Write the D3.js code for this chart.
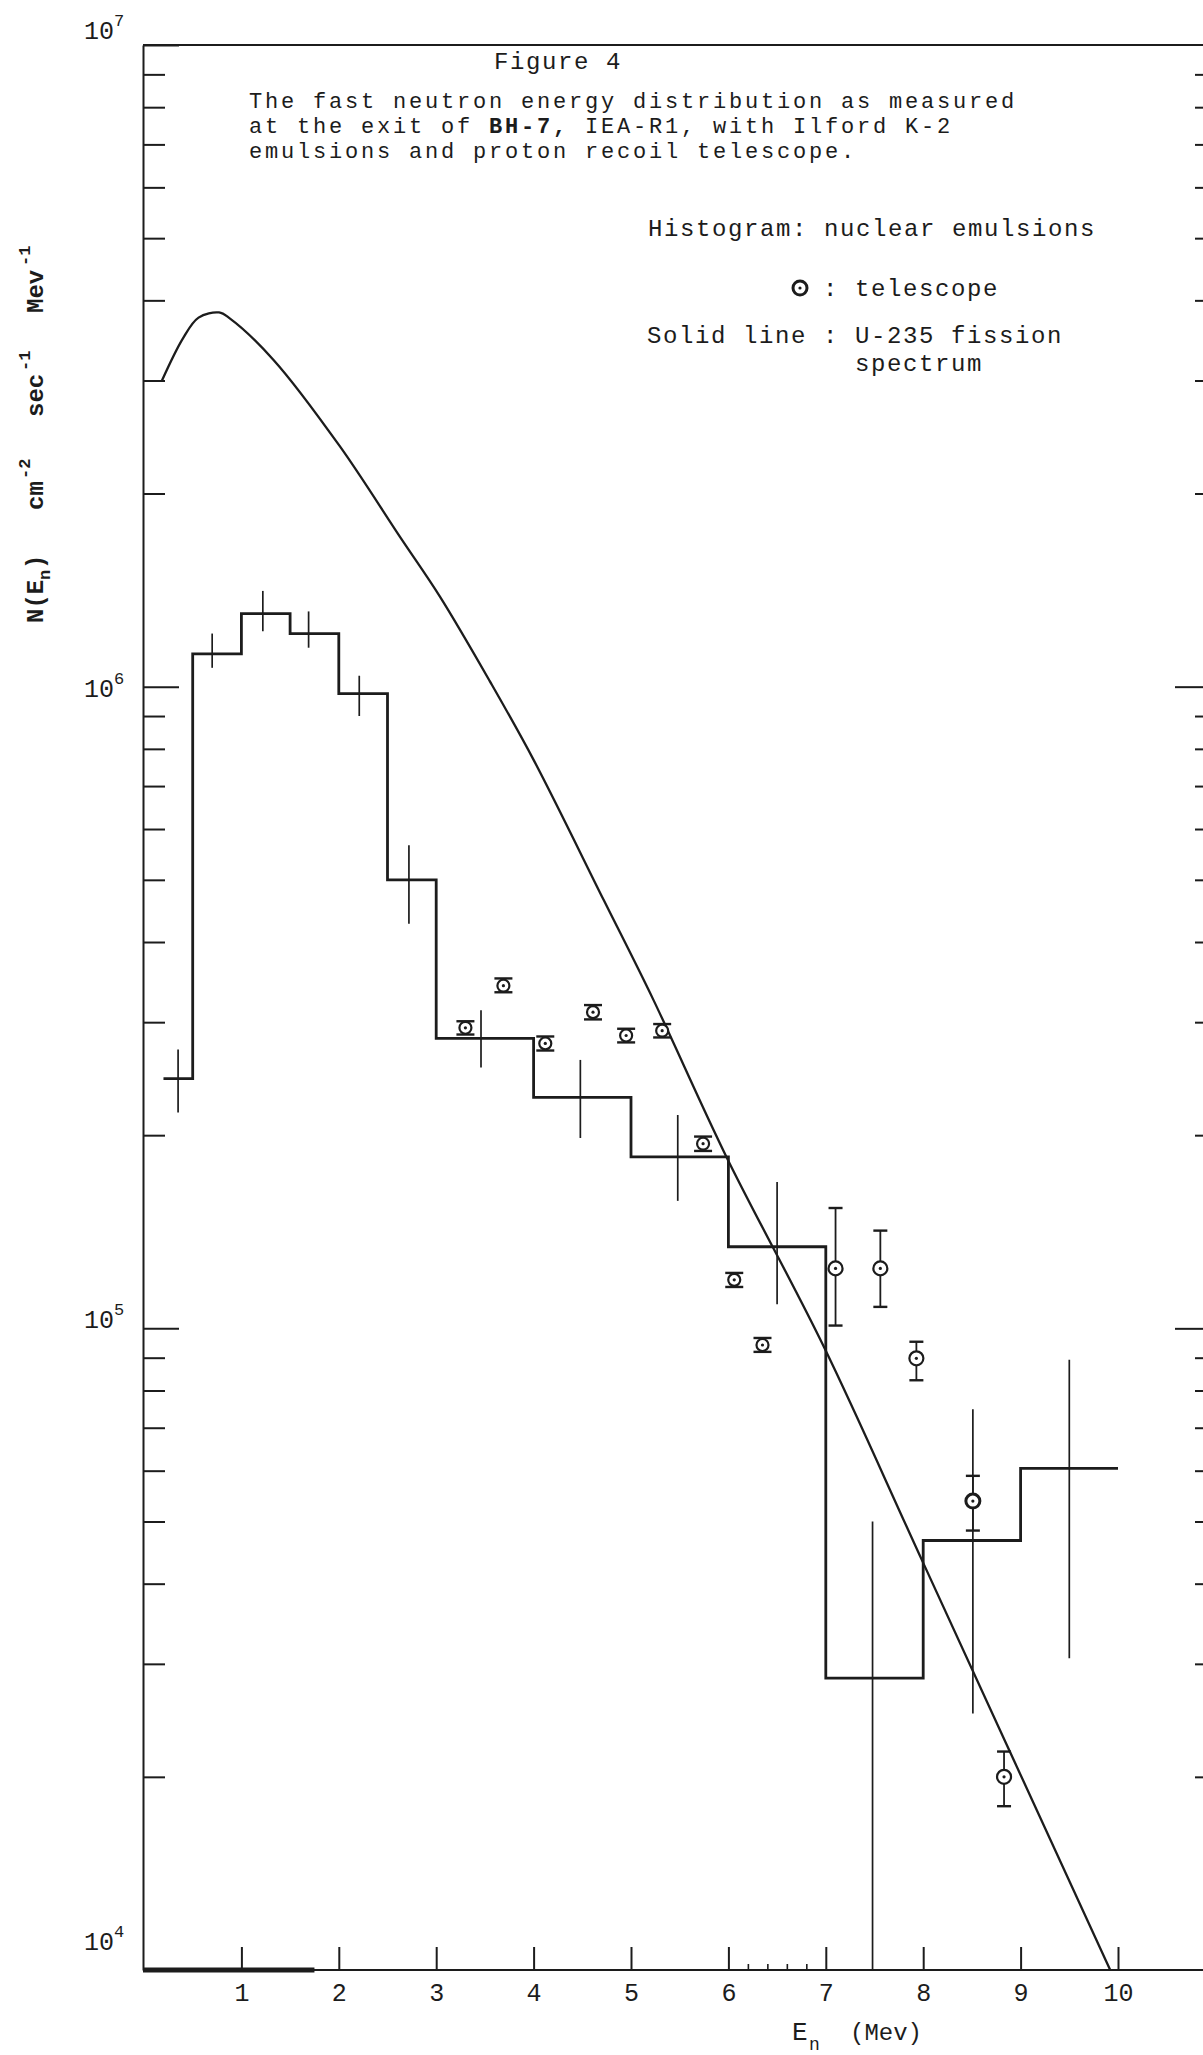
<!DOCTYPE html>
<html>
<head>
<meta charset="utf-8">
<script src="https://cdn.jsdelivr.net/npm/d3@7"></script>
<style>
  html, body { margin: 0; padding: 0; background: #fff; }
  svg { display: block; }
  text { font-family: "Liberation Mono", "Courier New", monospace; fill: #1c1c1c; }
</style>
</head>
<body>
<svg id="chart" width="1203" height="2055"></svg>
<script>
// ---- Nuclear emulsion histogram: bin edges (MeV) and flux in each bin ----
const binEdges = [0.2, 0.5, 1.0, 1.5, 2.0, 2.5, 3, 4, 5, 6, 7, 8, 9, 10];
const binFlux  = [2.45e5, 1.125e6, 1.30e6, 1.21e6, 9.75e5, 5.0e5, 2.83e5, 2.29e5, 1.85e5, 1.34e5, 2.85e4, 4.67e4, 6.05e4];

// statistical error bar of each bin (position and extent)
const binErrE  = [0.35, 0.70, 1.22, 1.69, 2.21, 2.72, 3.46, 4.48, 5.48, 6.50, 7.48, 8.51, 9.50];
const binErrHi = [2.72e5, 1.21e6, 1.41e6, 1.31e6, 1.04e6, 5.66e5, 3.13e5, 2.62e5, 2.15e5, 1.69e5, 5.0e4, 7.48e4, 8.93e4];
const binErrLo = [2.17e5, 1.07e6, 1.22e6, 1.15e6, 9.0e5, 4.27e5, 2.55e5, 1.98e5, 1.58e5, 1.09e5, 1.0e4, 2.51e4, 3.06e4];

// ---- Proton recoil telescope points ----
const telE    = [3.30, 3.69, 4.12, 4.61, 4.95, 5.32, 5.74, 6.06, 6.35, 7.10, 7.56, 7.93, 8.51, 8.83];
const telFlux = [2.94e5, 3.42e5, 2.78e5, 3.11e5, 2.86e5, 2.91e5, 1.94e5, 1.19e5, 9.42e4, 1.24e5, 1.24e5, 8.98e4, 5.38e4, 2.0e4];
const telHi   = [3.01e5, 3.51e5, 2.85e5, 3.19e5, 2.93e5, 2.98e5, 1.99e5, 1.22e5, 9.66e4, 1.54e5, 1.42e5, 9.53e4, 5.89e4, 2.19e4];
const telLo   = [2.87e5, 3.34e5, 2.71e5, 3.03e5, 2.79e5, 2.84e5, 1.89e5, 1.16e5, 9.19e4, 1.01e5, 1.08e5, 8.30e4, 4.84e4, 1.80e4];

// ---- U-235 fission spectrum (solid line) ----
const fissionE    = [0.18, 0.40, 0.56, 0.77, 0.88, 1.33, 2.01, 2.63, 3.04, 3.55, 4.00, 4.72, 5.23, 5.98, 6.98, 8.00, 9.92];
const fissionFlux = [2.99e6, 3.49e6, 3.76e6, 3.83e6, 3.75e6, 3.23e6, 2.37e6, 1.71e6, 1.38e6, 1.02e6, 7.69e5, 4.65e5, 3.25e5, 1.85e5, 9.36e4, 4.31e4, 1.0e4];

// ---- axis ticks ----
const xTickValues = [1, 2, 3, 4, 5, 6, 7, 8, 9, 10];
const xMinorTicks = [6.2, 6.4, 6.6, 6.8];
const decadeTicks = [1e4, 1e5, 1e6, 1e7];
const decadeExp   = ["4", "5", "6", "7"];
const minorTicks  = [1e4, 1e5, 1e6].flatMap(d => [2, 3, 4, 5, 6, 7, 8, 9].map(m => m * d));

const ink = "#1c1c1c";
const svg = d3.select("#chart");

const x = d3.scaleLinear().domain([0, 10]).range([144, 1118]);
const y = d3.scaleLog().domain([1e4, 1e7]).range([1970, 45]);

// ---------- frame ----------
// top border
svg.append("line").attr("x1", 143).attr("x2", 1203).attr("y1", y(1e7)).attr("y2", y(1e7))
  .attr("stroke", ink).attr("stroke-width", 2);
// bottom energy axis, heavier near the origin
svg.append("line").attr("x1", 143).attr("x2", 1203).attr("y1", y(1e4)).attr("y2", y(1e4))
  .attr("stroke", ink).attr("stroke-width", 2.2);
svg.append("line").attr("x1", 143).attr("x2", x(1.75)).attr("y1", y(1e4)).attr("y2", y(1e4))
  .attr("stroke", ink).attr("stroke-width", 5);

// left flux axis: minor and decade ticks pointing inward
const yMinor = d3.axisLeft(y).tickValues(minorTicks).tickSize(-22).tickSizeOuter(0).tickFormat("");
const yMajor = d3.axisLeft(y).tickValues(decadeTicks).tickSize(-36).tickSizeOuter(0).tickFormat("");
svg.append("g").attr("transform", "translate(143,0)").call(yMinor)
  .call(g => g.selectAll("line").attr("stroke", ink).attr("stroke-width", 2))
  .call(g => g.select(".domain").attr("stroke", ink).attr("stroke-width", 2));
svg.append("g").attr("transform", "translate(143,0)").call(yMajor)
  .call(g => g.select(".domain").remove())
  .call(g => g.selectAll("line").attr("stroke", ink).attr("stroke-width", 2));

// right side ticks (axis itself lies just past the page edge)
const rMinor = d3.axisRight(y).tickValues(minorTicks).tickSize(-11).tickSizeOuter(0).tickFormat("");
const rMajor = d3.axisRight(y).tickValues(decadeTicks.slice(1, 3)).tickSize(-31).tickSizeOuter(0).tickFormat("");
[rMinor, rMajor].forEach(ax => {
  svg.append("g").attr("transform", "translate(1206,0)").call(ax)
    .call(g => g.select(".domain").remove())
    .call(g => g.selectAll("line").attr("stroke", ink).attr("stroke-width", 2));
});

// decade labels 10^n
const decBase = { 4: -20, 5: 0, 6: 10, 7: -6 };
decadeTicks.forEach((v, i) => {
  const e = decadeExp[i];
  const t = svg.append("text").attr("x", 84).attr("y", y(v) + decBase[e])
    .attr("font-size", 25).attr("fill", "#2a2a2a");
  t.append("tspan").text("10");
  t.append("tspan").attr("font-size", 17).attr("dy", -13).text(e);
});

// energy axis ticks (pointing up) and labels
const xAxis = d3.axisBottom(x).tickValues(xTickValues).tickSize(-23).tickSizeOuter(0)
  .tickPadding(13).tickFormat(d3.format("d"));
svg.append("g").attr("transform", `translate(0,${y(1e4)})`).call(xAxis)
  .call(g => g.select(".domain").remove())
  .call(g => g.selectAll("line").attr("stroke", ink).attr("stroke-width", 2))
  .call(g => g.selectAll("text").attr("font-size", 25).attr("fill", "#2a2a2a")
    .attr("font-family", "'Liberation Mono', monospace"));
svg.append("g").attr("transform", `translate(0,${y(1e4)})`)
  .call(d3.axisBottom(x).tickValues(xMinorTicks).tickSize(-6).tickSizeOuter(0).tickFormat(""))
  .call(g => g.select(".domain").remove())
  .call(g => g.selectAll("line").attr("stroke", ink).attr("stroke-width", 1.6));

// ---------- data ----------
// fission spectrum
svg.append("path")
  .datum(fissionE.map((e, i) => [e, fissionFlux[i]]))
  .attr("fill", "none").attr("stroke", ink).attr("stroke-width", 2.3)
  .attr("d", d3.line().x(d => x(d[0])).y(d => y(d[1])).curve(d3.curveCatmullRom.alpha(0.5)));

// emulsion histogram
const histPts = binEdges.map((e, i) => [e, binFlux[Math.min(i, binFlux.length - 1)]]);
svg.append("path")
  .datum(histPts)
  .attr("fill", "none").attr("stroke", ink).attr("stroke-width", 2.8)
  .attr("d", d3.line().x(d => x(d[0])).y(d => y(d[1])).curve(d3.curveStepAfter));

// histogram error bars
svg.append("g").selectAll("line").data(binErrE).join("line")
  .attr("x1", d => x(d)).attr("x2", d => x(d))
  .attr("y1", (d, i) => y(binErrHi[i])).attr("y2", (d, i) => y(binErrLo[i]))
  .attr("stroke", ink).attr("stroke-width", 1.7);

// telescope points with capped error bars
const tel = svg.append("g");
telE.forEach((e, i) => {
  const cx = x(e), cy = y(telFlux[i]);
  const cap = i < 9 ? 9 : 7;
  const r = i < 9 ? 6 : 7;
  tel.append("line").attr("x1", cx).attr("x2", cx).attr("y1", y(telHi[i])).attr("y2", y(telLo[i]))
    .attr("stroke", ink).attr("stroke-width", 1.8);
  [telHi[i], telLo[i]].forEach(v => {
    tel.append("line").attr("x1", cx - cap).attr("x2", cx + cap).attr("y1", y(v)).attr("y2", y(v))
      .attr("stroke", ink).attr("stroke-width", 2.4);
  });
  tel.append("circle").attr("cx", cx).attr("cy", cy).attr("r", r)
    .attr("fill", "#fff").attr("stroke", ink).attr("stroke-width", i === 12 ? 3 : 2.2);
  tel.append("circle").attr("cx", cx).attr("cy", cy).attr("r", 1.6).attr("fill", ink);
});

// ---------- text ----------
// typewritten text: fixed 16px character pitch
const typed = (tx, ty, str, size) =>
  svg.append("text").attr("x", tx).attr("y", ty).attr("font-size", size)
    .attr("letter-spacing", 16 - 0.6 * size).text(str);

typed(494, 69, "Figure 4", 24);
typed(249, 108, "The fast neutron energy distribution as measured", 22);
const l2 = svg.append("text").attr("x", 249).attr("y", 133).attr("font-size", 22)
  .attr("letter-spacing", 16 - 0.6 * 22);
l2.append("tspan").text("at the exit of ");
l2.append("tspan").attr("font-weight", "bold").text("BH-7,");
l2.append("tspan").text(" IEA-R1, with Ilford K-2");
typed(249, 158, "emulsions and proton recoil telescope.", 22);

typed(648, 236, "Histogram: nuclear emulsions", 24);
svg.append("circle").attr("cx", 800).attr("cy", 288).attr("r", 7)
  .attr("fill", "#fff").attr("stroke", ink).attr("stroke-width", 3);
svg.append("circle").attr("cx", 800).attr("cy", 288).attr("r", 1.6).attr("fill", ink);
typed(823, 296, ":", 24);
typed(855, 296, "telescope", 24);
typed(647, 343, "Solid line : U-235 fission", 24);
typed(855, 371, "spectrum", 24);

// vertical axis title
const yt = svg.append("g").attr("transform", "translate(43,623) rotate(-90)");
const ylab = (dx, dy, str, size) => yt.append("text").attr("x", dx).attr("y", dy)
  .attr("font-size", size).attr("font-weight", "bold").text(str);
ylab(0, 0, "N(E", 24);
ylab(43, 7, "n", 17);
ylab(54, 0, ")", 24);
ylab(113, 0, "cm", 24);
ylab(144, -13, "-2", 17);
ylab(206, 0, "sec", 24);
ylab(252, -13, "-1", 17);
ylab(310, 0, "Mev", 24);
ylab(357, -13, "-1", 17);

// horizontal axis title
svg.append("text").attr("x", 792).attr("y", 2040).attr("font-size", 26).text("E");
svg.append("text").attr("x", 809).attr("y", 2050).attr("font-size", 18).text("n");
svg.append("text").attr("x", 850).attr("y", 2040).attr("font-size", 24).text("(Mev)");
</script>
</body>
</html>
